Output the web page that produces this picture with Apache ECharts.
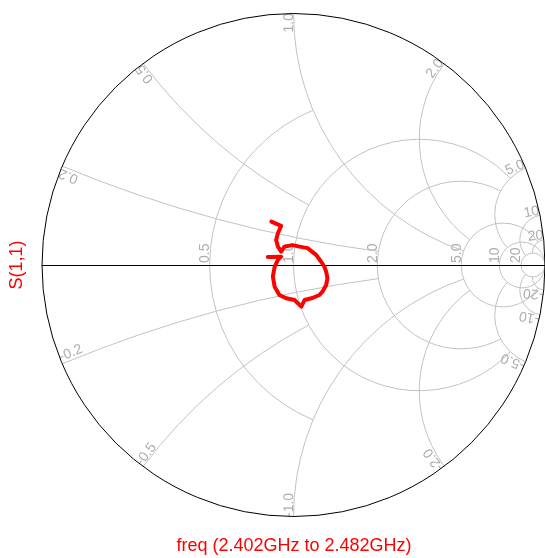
<!DOCTYPE html>
<html>
<head>
<meta charset="utf-8">
<script src="https://cdn.jsdelivr.net/npm/echarts@6/dist/echarts.min.js"></script>
<style>
  html, body { margin: 0; padding: 0; background: #fff; }
  #chart { width: 545px; height: 558px; }
</style>
</head>
<body>
<div id="chart"></div>
<script>
// smith chart grid
var rValues = [0.5, 1, 2, 5, 10, 20]
var rLabels = ['0.5', '1.0', '2.0', '5.0', '10', '20']
var rStopAt = [1, 5, 5, 20, 0, 0]        // reactance where a resistance circle stops, 0 = full circle
var xValues = [0.2, 0.5, 1, 2, 5, 10, 20]
var xLabels = ['0.2', '0.5', '1.0', '2.0', '5.0', '10', '20']
var xStopAt = [2, 1, 5, 5, 10, 20, 20]   // resistance where a reactance arc stops

// S(1,1), reflection coefficient (real / imag)
var traceRe = [-0.088, -0.049, -0.062, -0.069, -0.062, -0.049, -0.036, -0.004, 0.024, 0.056, 0.090, 0.110, 0.123, 0.130, 0.135, 0.130, 0.115, 0.103, 0.075, 0.044, 0.031, 0.004, -0.029, -0.056, -0.075, -0.082, -0.075, -0.062, -0.049, -0.102]
var traceIm = [0.172, 0.155, 0.126, 0.099, 0.073, 0.053, 0.073, 0.079, 0.073, 0.067, 0.040, 0.013, -0.007, -0.027, -0.052, -0.079, -0.106, -0.119, -0.131, -0.139, -0.165, -0.139, -0.132, -0.119, -0.086, -0.046, -0.007, 0.020, 0.033, 0.032]

var xTitle = 'freq (2.402GHz to 2.482GHz)'
var yTitle = 'S(1,1)'

var gridColor = '#c2c2c2'
var labelColor = '#adadad'
var labelFont = '14px "Liberation Sans", Arial, sans-serif'

// z = r + jx  ->  gamma
function gamma(r, x){
  var d = (r + 1) * (r + 1) + x * x
  return [((r - 1) * (r + 1) + x * x) / d, (2 * x) / d]
}

function wrapAngle(a){
  while(a > Math.PI) a -= 2 * Math.PI
  while(a < -Math.PI) a += 2 * Math.PI
  return a
}

function renderGrid(params, api){
  var kids = []
  var unit = api.size([1, 0])[0]
  var line = { fill: null, stroke: gridColor, lineWidth: 1 }

  // resistance circles
  rValues.forEach(function(r, i){
    var c = api.coord([r / (1 + r), 0])
    var rad = unit / (1 + r)
    var stop = rStopAt[i]
    if(!stop){
      kids.push({ type: 'circle', shape: { cx: c[0], cy: c[1], r: rad }, style: line })
    }else{
      var top = api.coord(gamma(r, stop)), bot = api.coord(gamma(r, -stop))
      var a1 = Math.atan2(bot[1] - c[1], bot[0] - c[0])
      var a2 = Math.atan2(top[1] - c[1], top[0] - c[0]) + 2 * Math.PI
      kids.push({ type: 'arc', shape: { cx: c[0], cy: c[1], r: rad, startAngle: a1, endAngle: a2, clockwise: true }, style: line })
    }
    var p = api.coord([(r - 1) / (r + 1), 0])
    kids.push({
      type: 'text', x: p[0] + 2.5, y: p[1] - 2, rotation: Math.PI / 2,
      style: { text: rLabels[i], fill: labelColor, font: labelFont, align: 'left', verticalAlign: 'bottom' }
    })
  })

  // reactance arcs
  xValues.forEach(function(xv, i){
    [1, -1].forEach(function(s){
      var x = xv * s
      var c = api.coord([1, 1 / x])
      var rad = unit / xv
      var pRim = api.coord(gamma(0, x)), pEnd = api.coord(gamma(xStopAt[i], x))
      var a1 = Math.atan2(pRim[1] - c[1], pRim[0] - c[0])
      var d = wrapAngle(Math.atan2(pEnd[1] - c[1], pEnd[0] - c[0]) - a1)
      kids.push({ type: 'arc', shape: { cx: c[0], cy: c[1], r: rad, startAngle: a1, endAngle: a1 + d, clockwise: d > 0 }, style: line })

      // label sits on the arc at the rim
      var pIn = api.coord(gamma(0.02, x))
      var dx = pIn[0] - pRim[0], dy = pIn[1] - pRim[1]
      var len = Math.sqrt(dx * dx + dy * dy)
      dx /= len; dy /= len
      var rx = s > 0 ? -dx : dx, ry = s > 0 ? -dy : dy
      var rot = Math.atan2(-ry, rx)
      var downX = Math.sin(rot), downY = Math.cos(rot)
      kids.push({
        type: 'text', x: pRim[0] + downX * 2.5, y: pRim[1] + downY * 2.5, rotation: rot,
        style: { text: (s < 0 ? '-' : '') + xLabels[i], fill: labelColor, font: labelFont, align: s > 0 ? 'right' : 'left', verticalAlign: 'bottom' }
      })
    })
  })

  // outer circle and real axis
  var o = api.coord([0, 0])
  var l = api.coord([-1, 0]), rr = api.coord([1, 0])
  kids.push({ type: 'line', shape: { x1: l[0], y1: l[1] + 0.5, x2: rr[0], y2: rr[1] + 0.5 }, style: { stroke: '#000', lineWidth: 1 } })
  kids.push({ type: 'circle', shape: { cx: o[0], cy: o[1], r: unit }, style: { fill: null, stroke: '#000', lineWidth: 1 } })

  return { type: 'group', children: kids }
}

var chart = echarts.init(document.getElementById('chart'))

var traceData = traceRe.map(function(v, i){ return [v, traceIm[i]] })

var option = {
  animation: false,
  grid: { left: 42, top: 13, width: 504, height: 504 },
  xAxis: { type: 'value', min: -1, max: 1, show: false },
  yAxis: { type: 'value', min: -1, max: 1, show: false },
  graphic: [
    {
      type: 'text', x: 294, y: 546,
      style: { text: xTitle, fill: '#ff0000', font: '18px "Liberation Sans", Arial, sans-serif', align: 'center', verticalAlign: 'middle' }
    },
    {
      type: 'text', x: 17, y: 265, rotation: Math.PI / 2,
      style: { text: yTitle, fill: '#ff0000', font: '18px "Liberation Sans", Arial, sans-serif', align: 'center', verticalAlign: 'middle' }
    }
  ],
  series: [
    {
      type: 'custom',
      coordinateSystem: 'cartesian2d',
      silent: true,
      clip: false,
      z: 1,
      data: [[0, 0]],
      renderItem: renderGrid
    },
    {
      type: 'line',
      z: 5,
      showSymbol: false,
      symbol: 'none',
      lineStyle: { color: '#ff0000', width: 4, join: 'round', cap: 'round' },
      data: traceData
    }
  ]
}

chart.setOption(option)
</script>
</body>
</html>
